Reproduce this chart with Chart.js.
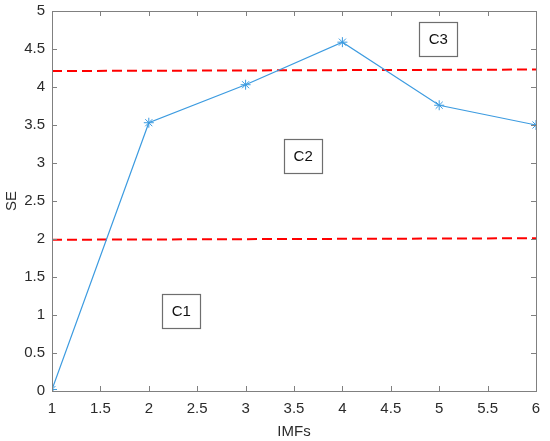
<!DOCTYPE html>
<html>
<head>
<meta charset="utf-8">
<script src="https://cdn.jsdelivr.net/npm/chart.js@4/dist/chart.umd.min.js"></script>
<style>
html,body{margin:0;padding:0;background:#fff;}
#wrap{width:550px;height:441px;}
</style>
</head>
<body>
<div id="wrap"><canvas id="c" width="550" height="441"></canvas></div>
<script>
const imfs = [1, 2, 3, 4, 5, 6];
const seValues = [0.02, 3.53, 4.03, 4.59, 3.76, 3.5];
const upperLineX = [1, 6];
const upperLineY = [4.21, 4.23];
const lowerLineX = [1, 6];
const lowerLineY = [1.99, 2.01];
const regionLabels = ['C1', 'C2', 'C3'];
const regionCenterX = [2.335, 3.595, 4.99];
const regionCenterY = [1.05, 3.095, 4.635];

const toPts = (xs, ys) => xs.map((x, i) => ({x: x, y: ys[i]}));

const FONT = '"Liberation Sans", Arial, Helvetica, sans-serif';
const AXIS_COLOR = '#808080';
const TEXT_COLOR = '#2b2b2b';

const framePlugin = {
  id: 'frame',
  afterDraw(chart) {
    const {ctx, chartArea: a, scales} = chart;
    const xs = scales.x, ys = scales.y;
    ctx.save();
    ctx.strokeStyle = AXIS_COLOR;
    ctx.lineWidth = 1;
    ctx.strokeRect(a.left + 0.5, a.top + 0.5, a.right - a.left, a.bottom - a.top);
    ctx.beginPath();
    const tl = 5;
    xs.ticks.forEach(t => {
      const px = Math.round(xs.getPixelForValue(t.value)) + 0.5;
      ctx.moveTo(px, a.bottom); ctx.lineTo(px, a.bottom - tl);
      ctx.moveTo(px, a.top); ctx.lineTo(px, a.top + tl);
    });
    ys.ticks.forEach(t => {
      const py = Math.round(ys.getPixelForValue(t.value)) + 0.5;
      ctx.moveTo(a.left, py); ctx.lineTo(a.left + tl, py);
      ctx.moveTo(a.right, py); ctx.lineTo(a.right - tl, py);
    });
    ctx.stroke();
    // region label boxes
    ctx.font = '15px ' + FONT;
    ctx.textAlign = 'center';
    ctx.textBaseline = 'middle';
    regionLabels.forEach((lab, i) => {
      const cx = xs.getPixelForValue(regionCenterX[i]);
      const cy = ys.getPixelForValue(regionCenterY[i]);
      const w = 38, h = 34;
      ctx.fillStyle = '#ffffff';
      ctx.fillRect(cx - w / 2, cy - h / 2, w, h);
      ctx.strokeStyle = '#6e6e6e';
      ctx.lineWidth = 1.2;
      ctx.strokeRect(Math.round(cx - w / 2) + 0.5, Math.round(cy - h / 2) + 0.5, w, h);
      ctx.fillStyle = '#111111';
      ctx.fillText(lab, cx, cy + 1);
    });
    ctx.restore();
  }
};

new Chart(document.getElementById('c'), {
  type: 'scatter',
  data: {
    datasets: [
      {
        label: 'SE',
        data: toPts(imfs, seValues),
        showLine: true,
        borderColor: '#3c9be0',
        backgroundColor: '#3c9be0',
        borderWidth: 1.2,
        pointStyle: 'star',
        pointRadius: 5,
        pointBorderWidth: 1,
        order: 1
      },
      {
        label: 'upper',
        data: toPts(upperLineX, upperLineY),
        showLine: true,
        borderColor: '#ff0000',
        borderWidth: 2,
        borderDash: [10, 5],
        pointRadius: 0,
        order: 2
      },
      {
        label: 'lower',
        data: toPts(lowerLineX, lowerLineY),
        showLine: true,
        borderColor: '#ff0000',
        borderWidth: 2,
        borderDash: [10, 5],
        pointRadius: 0,
        order: 2
      }
    ]
  },
  options: {
    responsive: false,
    animation: false,
    devicePixelRatio: 1,
    layout: {padding: {left: 3, top: 11, right: 14, bottom: 0}},
    plugins: {legend: {display: false}, tooltip: {enabled: false}},
    scales: {
      x: {
        type: 'linear', min: 1, max: 6,
        grid: {display: false, drawTicks: false, tickLength: 0},
        border: {display: false},
        ticks: {stepSize: 0.5, color: TEXT_COLOR, font: {family: FONT, size: 15}, padding: 9, maxRotation: 0,
          callback: v => String(v)},
        title: {display: true, text: 'IMFs', color: TEXT_COLOR, font: {family: FONT, size: 15}, padding: {top: 7, bottom: 0}},
        afterFit: s => { s.height = 50; s.paddingLeft = 0; s.paddingRight = 0; }
      },
      y: {
        type: 'linear', min: 0, max: 5,
        grid: {display: false, drawTicks: false, tickLength: 0},
        border: {display: false},
        ticks: {stepSize: 0.5, color: TEXT_COLOR, font: {family: FONT, size: 15}, padding: 7,
          callback: v => String(v)},
        title: {display: true, text: 'SE', color: TEXT_COLOR, font: {family: FONT, size: 15}, padding: {top: 0, bottom: 2}},
        afterFit: s => { s.width = 49; s.paddingTop = 0; s.paddingBottom = 0; }
      }
    }
  },
  plugins: [framePlugin]
});
</script>
</body>
</html>
